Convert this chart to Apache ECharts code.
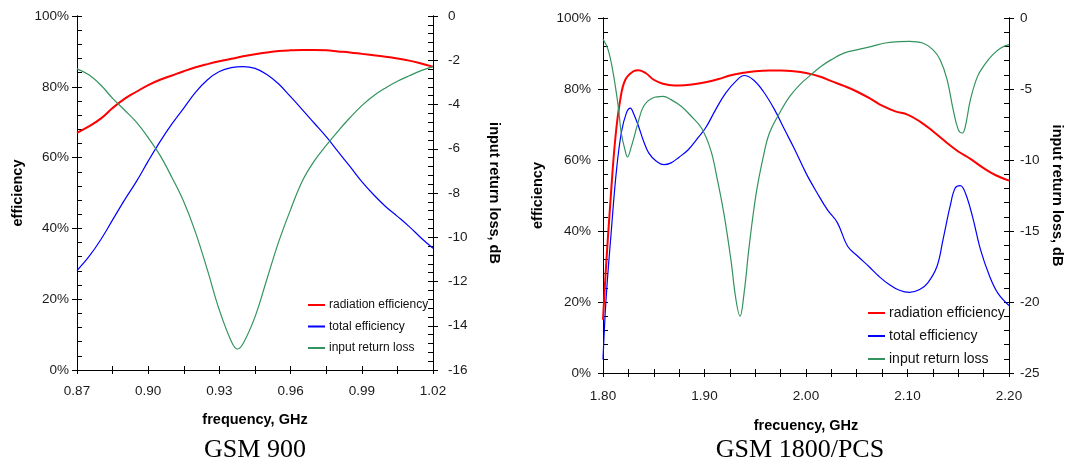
<!DOCTYPE html>
<html><head><meta charset="utf-8">
<script src="https://cdn.jsdelivr.net/npm/echarts@6/dist/echarts.min.js"></script>
<style>html,body{margin:0;padding:0;background:#fff}#c{width:1066px;height:464px}</style>
</head><body><div id="c"></div>
<script>
// ---------- GSM 900 panel ----------
const f900 = [0.870,0.875,0.880,0.885,0.890,0.895,0.900,0.905,0.910,0.915,0.920,0.925,0.930,0.935,0.940,0.945,0.950,0.955,0.960,0.965,0.970,0.975,0.980,0.985,0.990,0.995,1.000,1.005,1.010,1.015,1.020];
const rad900 = [67.0,68.8,71.0,74.0,76.6,78.6,80.5,82.0,83.2,84.4,85.5,86.4,87.2,87.9,88.6,89.2,89.7,90.1,90.3,90.4,90.4,90.3,90.0,89.7,89.3,88.9,88.5,88.0,87.4,86.6,85.7];
const tot900 = [28.1,32.0,36.8,42.4,48.0,53.2,59.0,64.5,69.5,74.0,78.5,82.0,84.3,85.4,85.7,85.2,83.5,80.8,77.2,73.5,69.7,65.9,61.7,57.5,53.2,49.5,46.2,43.4,40.5,37.3,34.4];
const fRl900 = [0.870,0.875,0.880,0.885,0.890,0.895,0.900,0.905,0.910,0.915,0.920,0.925,0.930,0.935,0.9375,0.940,0.945,0.950,0.955,0.960,0.965,0.970,0.975,0.980,0.985,0.990,0.995,1.000,1.005,1.010,1.015,1.020];
const rl900 = [-2.39,-2.66,-3.12,-3.72,-4.25,-4.8,-5.5,-6.3,-7.3,-8.4,-9.8,-11.5,-13.3,-14.7,-15.05,-14.8,-13.6,-11.9,-10.2,-8.75,-7.45,-6.55,-5.85,-5.2,-4.6,-4.05,-3.6,-3.25,-2.95,-2.7,-2.47,-2.29];

// ---------- GSM 1800/PCS panel ----------
const fRad1800 = [1.800,1.803,1.807,1.812,1.817,1.822,1.830,1.835,1.842,1.850,1.859,1.870,1.875,1.891,1.901,1.914,1.925,1.937,1.950,1.964,1.975,1.988,2.000,2.015,2.025,2.038,2.050,2.065,2.075,2.088,2.100,2.112,2.125,2.139,2.150,2.162,2.175,2.187,2.200];
const rad1800 = [15,30,47,65.7,77,82.6,85,85.3,84.5,82.6,81.5,81,81,81.4,81.9,82.8,83.8,84.5,85,85.2,85.2,85,84.5,83.4,82.2,80.8,79.3,77,75.3,73.7,72.8,70.9,68.1,64.8,62.4,60.3,57.7,55.7,54.2];
const fTot1800 = [1.800,1.803,1.808,1.813,1.818,1.823,1.827,1.830,1.835,1.840,1.845,1.852,1.860,1.867,1.875,1.884,1.892,1.901,1.911,1.921,1.931,1.939,1.948,1.958,1.969,1.979,1.989,2.000,2.011,2.021,2.031,2.041,2.051,2.062,2.072,2.082,2.092,2.102,2.112,2.120,2.129,2.135,2.142,2.147,2.152,2.157,2.164,2.172,2.181,2.189,2.200];
const tot1800 = [3.8,20.7,39.4,56.3,67.6,73.2,74.6,73.2,69.5,65.3,62.0,59.8,58.7,59.2,60.8,62.9,65.7,69.0,74.2,78.9,82.2,83.8,82.6,79.3,74.2,68.5,62.9,56.3,50.7,46.0,42.3,35.7,32.9,30.0,27.2,24.9,23.3,22.7,23.5,25.4,30.0,37.6,47.0,52.1,52.8,50.7,44.1,34.7,27.2,22.5,19.0];
const fRl1800 = [1.800,1.805,1.810,1.815,1.818,1.822,1.824,1.828,1.834,1.840,1.849,1.859,1.867,1.877,1.887,1.897,1.906,1.912,1.919,1.926,1.931,1.935,1.939,1.944,1.951,1.958,1.964,1.974,1.984,1.994,2.005,2.015,2.025,2.038,2.051,2.065,2.078,2.092,2.102,2.115,2.125,2.132,2.139,2.145,2.150,2.154,2.157,2.162,2.169,2.176,2.184,2.192,2.200];
const rl1800 = [-1.48,-2.23,-3.87,-6.22,-8.1,-9.39,-9.79,-9.04,-7.51,-6.22,-5.63,-5.52,-5.75,-6.22,-6.92,-7.75,-9.27,-11.15,-13.73,-17.02,-19.84,-21.0,-19.37,-16.08,-12.32,-9.74,-8.1,-6.69,-5.52,-4.69,-3.99,-3.4,-2.93,-2.46,-2.23,-2.0,-1.76,-1.67,-1.64,-1.76,-2.23,-2.93,-4.34,-6.46,-7.86,-8.1,-7.63,-5.75,-4.11,-3.29,-2.58,-2.11,-1.88];

const seriesNames = ['radiation efficiency','total efficiency','input return loss'];
const panelTitles = ['GSM 900','GSM 1800/PCS'];
const xNames = ['frequency, GHz','frecuency, GHz'];
const effName = 'efficiency';
const rlName = 'input return loss, dB';

const FONT = "'Liberation Sans', Arial, Helvetica, sans-serif";
const RED = '#ff0000', BLUE = '#0000ff', GREEN = '#33935f';
const pairs = (xs, ys) => xs.map((x, i) => [x, ys[i]]);

const lineAx = {show: true, onZero: false, lineStyle: {color: '#000', width: 1}};
const lbl = (o) => Object.assign({fontSize: 13.5, fontFamily: FONT, color: '#1a1a1a'}, o);
const nameStyle = {fontSize: 14.5, fontWeight: 'bold', fontFamily: FONT, color: '#000'};

function xPair(grid, min, max, interval, minorSplit, name, gap, margin) {
  return [
    {type: 'value', gridIndex: grid, position: 'bottom', min, max, interval,
     axisLine: lineAx, splitLine: {show: false},
     axisTick: {show: true, inside: false, length: 4, lineStyle: {color: '#000'}},
     minorTick: {show: true, splitNumber: minorSplit, length: 4, lineStyle: {color: '#000'}},
     axisLabel: lbl({margin, formatter: v => v.toFixed(2)}),
     name, nameLocation: 'middle', nameGap: gap, nameTextStyle: nameStyle},
    {type: 'value', gridIndex: grid, position: 'bottom', min, max, interval,
     axisLine: lineAx, splitLine: {show: false}, axisLabel: {show: false},
     axisTick: {show: true, inside: true, length: 4, lineStyle: {color: '#000'}},
     minorTick: {show: true, splitNumber: minorSplit, length: 4, lineStyle: {color: '#000'}}}
  ];
}
function yPair(grid, pos, min, max, interval, minorSplit, fmt, margin, name, gap, rot) {
  return [
    {type: 'value', gridIndex: grid, position: pos, min, max, interval,
     axisLine: lineAx, splitLine: {show: false},
     axisTick: {show: true, inside: false, length: 5, lineStyle: {color: '#000'}},
     minorTick: {show: false},
     axisLabel: lbl({margin, formatter: fmt}),
     name, nameLocation: 'middle', nameGap: gap, nameRotate: rot, nameTextStyle: nameStyle},
    {type: 'value', gridIndex: grid, position: pos, min, max, interval,
     axisLine: lineAx, splitLine: {show: false}, axisLabel: {show: false},
     axisTick: {show: true, inside: true, length: 5, lineStyle: {color: '#000'}},
     minorTick: {show: true, splitNumber: minorSplit, length: 5, lineStyle: {color: '#000'}}}
  ];
}

const xAxis = [
  ...xPair(0, 0.87, 1.02, 0.03, 2, xNames[0], 42, 14),
  ...xPair(1, 1.80, 2.20, 0.10, 4, xNames[1], 45, 16)
];
const yAxis = [
  ...yPair(0, 'left', 0, 100, 20, 5, '{value}%', 8, effName, 52, 90),
  ...yPair(0, 'right', -16, 0, 2, 5, '{value}', 15, rlName, 53, -90),
  ...yPair(1, 'left', 0, 100, 20, 5, '{value}%', 12, effName, 58, 90),
  ...yPair(1, 'right', -25, 0, 5, 5, '{value}', 11, rlName, 40, -90)
];

function ser(name, data, xi, yi, color, width) {
  return {type: 'line', name, data, xAxisIndex: xi, yAxisIndex: yi,
    symbol: 'none', smooth: 0.4,
    lineStyle: {color, width}, itemStyle: {color}, z: 3};
}

const series = [
  ser(seriesNames[0], pairs(f900, rad900), 0, 0, RED, 2),
  ser(seriesNames[1], pairs(f900, tot900), 0, 0, BLUE, 1.2),
  ser(seriesNames[2], pairs(fRl900, rl900), 0, 2, GREEN, 1.2),
  ser(seriesNames[0], pairs(fRad1800, rad1800), 2, 4, RED, 2),
  ser(seriesNames[1], pairs(fTot1800, tot1800), 2, 4, BLUE, 1.2),
  ser(seriesNames[2], pairs(fRl1800, rl1800), 2, 6, GREEN, 1.2)
];

function legendAt(left, top, gap, size) {
  return {orient: 'vertical', left, top, itemGap: gap, itemWidth: 17, itemHeight: 2,
    icon: 'rect', data: seriesNames, selectedMode: false,
    textStyle: {fontSize: size, fontFamily: FONT, color: '#111', padding: [0, 0, 0, -1]}};
}

const chart = echarts.init(document.getElementById('c'), null, {renderer: 'canvas'});
chart.setOption({
  animation: false,
  backgroundColor: '#fff',
  grid: [
    {left: 77, top: 16, width: 356, height: 354},
    {left: 603, top: 18, width: 406, height: 355}
  ],
  xAxis, yAxis, series,
  legend: [legendAt(303, 294, 9.5, 12), legendAt(863, 301, 9, 14)],
  graphic: [
    {type: 'text', x: 255, y: 450, style: {text: panelTitles[0], textAlign: 'center', textVerticalAlign: 'middle', font: "26px 'Liberation Serif', 'Times New Roman', serif", fill: '#000'}},
    {type: 'text', x: 800, y: 450, style: {text: panelTitles[1], textAlign: 'center', textVerticalAlign: 'middle', font: "26px 'Liberation Serif', 'Times New Roman', serif", fill: '#000'}}
  ]
});
</script></body></html>
